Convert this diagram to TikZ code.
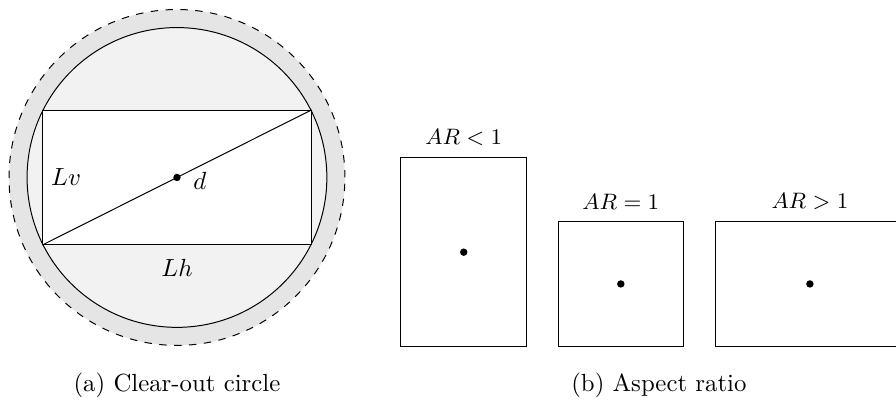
\documentclass[tikz,border=0pt]{standalone}
\usetikzlibrary{positioning}

\begin{document}
\begin{tikzpicture}[font=\normalsize,
        centerdot/.style={circle, fill, inner sep=0pt, minimum size=3pt},
        arbox/.style={draw, anchor=south, inner sep=0pt}]
        \useasboundingbox (-2.508,-3.351) rectangle (10.19,2.515);
        % clear-out circle
        \node[circle, draw, dashed, fill=gray!20, minimum size=4.76cm] (outer) at (0,0) {};
        \node[circle, draw, fill=gray!10, minimum size=4.2485cm] (inner) at (0,0) {};
        \node[draw, fill=white, minimum width=3.8cm, minimum height=1.9cm] (box) at (0,0) {};
        \draw (box.south west) -- (box.north east);
        \node[centerdot] (mid) at (0,0) {};
        \node[right=0.05cm of mid, yshift=-1.5pt] (dlab) {$d$};
        \node[right=0pt of box.west] (lv) {$Lv$};
        \node[below=0.08cm of box] (lh) {$Lh$};
        \node (capa) at (0,-2.94) {(a) Clear-out circle};
        % aspect ratio boxes
        \foreach \i/\x/\w/\h/\txt in {
            1/4.064/1.78cm/2.68cm/{$AR<1$},
            2/6.29/1.78cm/1.78cm/{$AR=1$},
            3/8.97/2.68cm/1.78cm/{$AR>1$}}
        {
            \node[arbox, minimum width=\w, minimum height=\h] (r\i) at (\x,-2.406) {};
            \node[centerdot] (c\i) at (r\i.center) {};
            \node[above=1pt of r\i, font=\small] (l\i) {\txt};
        }
        \node (capb) at (6.83,-2.94) {(b) Aspect ratio};
    \end{tikzpicture}
\end{document}
